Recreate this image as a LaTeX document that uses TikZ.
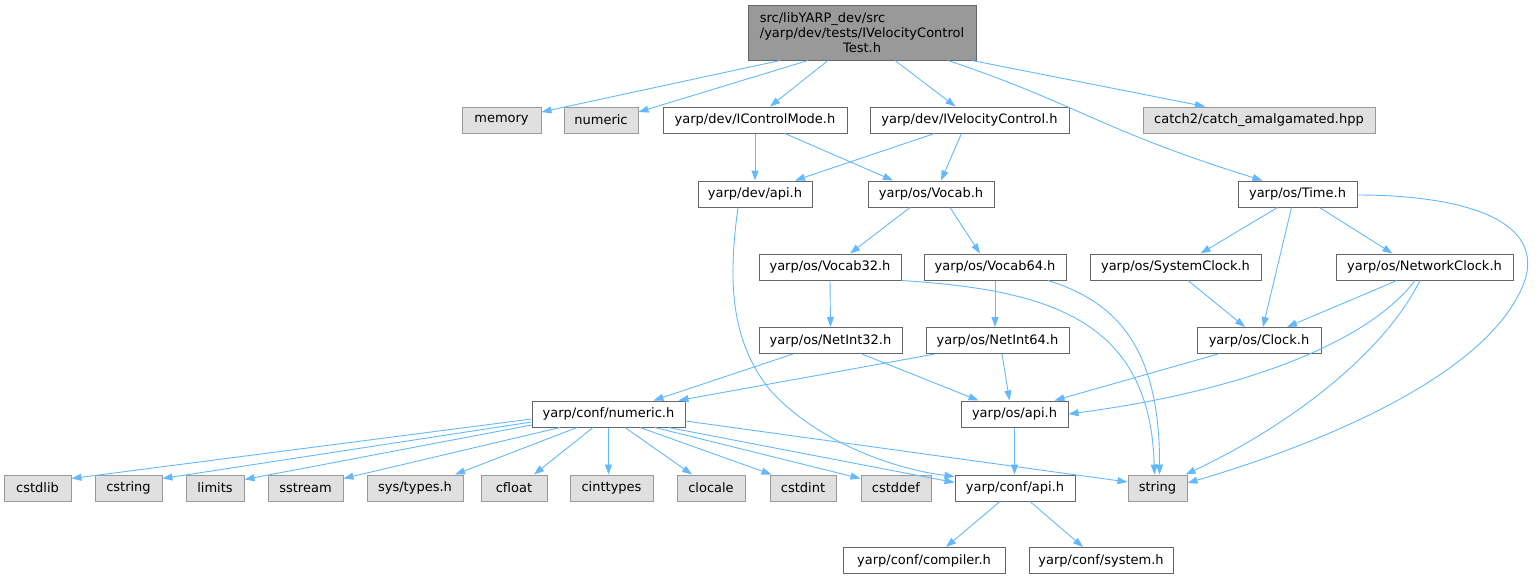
\documentclass[tikz,border=0pt]{standalone}
\usepackage{fontspec}
\setmainfont{DejaVu Sans}
\usetikzlibrary{arrows.meta}
\definecolor{edgeblue}{HTML}{63B8FF}
\definecolor{boxline}{HTML}{666666}
\definecolor{extline}{HTML}{999999}
\definecolor{extfill}{HTML}{E0E0E0}
\definecolor{topfill}{HTML}{999999}
\begin{document}
\begin{tikzpicture}[x=1pt,y=-1pt,
  box/.style={draw=boxline, fill=white, line width=1pt, minimum height=26pt, inner sep=0pt, font=\fontsize{13}{15}\selectfont},
  ext/.style={box, draw=extline, fill=extfill},
  topbox/.style={box, fill=topfill, draw=boxline, align=center},
  dep/.style={draw=edgeblue, line width=0.9pt, -{Triangle[length=10pt,width=7pt]}}]
\useasboundingbox (0,0) rectangle (1538,579);
% nodes
\node[topbox, minimum width=228pt, minimum height=55pt] (top) at (862,32.5)
  {\rlap{src/libYARP\_dev/src}\phantom{/yarp/dev/tests/IVelocityControl}\\/yarp/dev/tests/IVelocityControl\\Test.h};
\node[ext, minimum width=79pt] (memory) at (501.5,120) {memory};
\node[ext, minimum width=74pt] (numeric) at (601,120) {numeric};
\node[box, minimum width=184pt] (icm) at (755,120) {yarp/dev/IControlMode.h};
\node[box, minimum width=199pt] (ivc) at (969.5,120) {yarp/dev/IVelocityControl.h};
\node[ext, minimum width=232pt] (catch) at (1259,120) {catch2/catch\_amalgamated.hpp};
\node[box, minimum width=114pt] (devapi) at (755,194) {yarp/dev/api.h};
\node[box, minimum width=126pt] (vocab) at (931,194) {yarp/os/Vocab.h};
\node[box, minimum width=119pt] (time) at (1297.5,194) {yarp/os/Time.h};
\node[box, minimum width=142pt] (v32) at (830,267) {yarp/os/Vocab32.h};
\node[box, minimum width=142pt] (v64) at (995,267) {yarp/os/Vocab64.h};
\node[box, minimum width=171pt] (sysclock) at (1175.5,267) {yarp/os/SystemClock.h};
\node[box, minimum width=177pt] (netclock) at (1424.5,267) {yarp/os/NetworkClock.h};
\node[box, minimum width=143pt] (ni32) at (830.5,340.5) {yarp/os/NetInt32.h};
\node[box, minimum width=143pt] (ni64) at (997.5,340.5) {yarp/os/NetInt64.h};
\node[box, minimum width=124pt] (clock) at (1259,340.5) {yarp/os/Clock.h};
\node[box, minimum width=153pt] (confnum) at (608.5,414) {yarp/conf/numeric.h};
\node[box, minimum width=107pt] (osapi) at (1014.5,414) {yarp/os/api.h};
\node[ext, minimum width=67pt] (cstdlib) at (37.5,488) {cstdlib};
\node[ext, minimum width=67pt] (cstring) at (128.5,488) {cstring};
\node[ext, minimum width=58pt] (limits) at (215,488) {limits};
\node[ext, minimum width=75pt] (sstream) at (305.5,488) {sstream};
\node[ext, minimum width=96pt] (systypes) at (415,488) {sys/types.h};
\node[ext, minimum width=66pt] (cfloat) at (514,488) {cfloat};
\node[ext, minimum width=83pt] (cinttypes) at (611.5,488) {cinttypes};
\node[ext, minimum width=68pt] (clocale) at (711,488) {clocale};
\node[ext, minimum width=66pt] (cstdint) at (803,488) {cstdint};
\node[ext, minimum width=70pt] (cstddef) at (896,488) {cstddef};
\node[box, minimum width=120pt] (confapi) at (1015,488) {yarp/conf/api.h};
\node[ext, minimum width=59pt] (string) at (1157.5,488) {string};
\node[box, minimum width=162pt] (compiler) at (924,560.5) {yarp/conf/compiler.h};
\node[box, minimum width=144pt] (system) at (1101,560.5) {yarp/conf/system.h};
% edges from top
\draw[dep] ([xshift=-82]top.south) -- ([yshift=8]memory.east);
\draw[dep] ([xshift=-54]top.south) -- ([yshift=8]numeric.east);
\draw[dep] ([xshift=-34]top.south) -- ([xshift=15]icm.north);
\draw[dep] ([xshift=33]top.south) -- ([xshift=-14]ivc.north);
\draw[dep] ([xshift=86]top.south) .. controls (1080,105) and (1100,130) .. ([xshift=-35]time.north);
\draw[dep] ([xshift=110]top.south) -- ([xshift=-54]catch.north);
% row 2
\draw[dep] (icm.south) -- (devapi.north);
\draw[dep] ([xshift=30]icm.south) -- ([xshift=-38]vocab.north);
\draw[dep] ([xshift=-35]ivc.south) -- ([xshift=40]devapi.north);
\draw[dep] ([xshift=-8]ivc.south) -- ([xshift=10]vocab.north);
% row 3
\draw[dep] ([xshift=-17]devapi.south) .. controls (728,280) and (730,340) .. (770,390) .. controls (820,445) and (900,470) .. ([yshift=-2]confapi.north west);
\draw[dep] ([xshift=-21]vocab.south) -- ([xshift=20]v32.north);
\draw[dep] ([xshift=19]vocab.south) -- ([xshift=-15]v64.north);
\draw[dep] ([xshift=-20]time.south) -- ([xshift=25]sysclock.north);
\draw[dep] ([xshift=-6]time.south) -- ([xshift=4]clock.north);
\draw[dep] ([xshift=22]time.south) -- ([xshift=-32]netclock.north);
\draw[dep] ([yshift=-1]time.east) .. controls (1450,195) and (1545,215) .. (1525,280) .. controls (1490,380) and (1300,450) .. ([yshift=5]string.east);
% row 4
\draw[dep] (v32.south) -- (ni32.north);
\draw[dep] (v32.south east) .. controls (1050,290) and (1150,320) .. ([xshift=-3]string.north);
\draw[dep] (v64.south) -- (v64.south |- ni64.north);
\draw[dep] ([xshift=53]v64.south) .. controls (1110,300) and (1160,340) .. ([xshift=2]string.north);
\draw[dep] ([xshift=12.5]sysclock.south) -- ([xshift=-14]clock.north);
\draw[dep] ([xshift=-27.5]netclock.south) -- ([xshift=28]clock.north);
\draw[dep] ([xshift=-9.5]netclock.south) .. controls (1370,340) and (1250,390) .. (osapi.east);
\draw[dep] ([xshift=-4.5]netclock.south) .. controls (1380,360) and (1280,430) .. ([xshift=-2]string.north east);
% row 5
\draw[dep] ([xshift=-37.5]ni32.south) -- ([xshift=45]confnum.north);
\draw[dep] ([xshift=31.5]ni32.south) -- ([xshift=-36]osapi.north);
\draw[dep] ([xshift=-62.5]ni64.south) -- ([xshift=70]confnum.north);
\draw[dep] ([xshift=4.5]ni64.south) -- ([xshift=-5]osapi.north);
\draw[dep] ([xshift=-41]clock.south) -- ([xshift=40]osapi.north);
% row 6
\draw[dep] ([yshift=-5]confnum.west) -- ([yshift=-4]cstdlib.north east);
\draw[dep] ([yshift=-8]confnum.west) -- ([yshift=-4]cstring.north east);
\draw[dep] ([yshift=-11]confnum.west) -- ([yshift=-5]limits.north east);
\draw[dep] ([xshift=-48.5]confnum.south) -- ([yshift=-4]sstream.north east);
\draw[dep] ([xshift=-31.5]confnum.south) -- ([xshift=40]systypes.north);
\draw[dep] ([xshift=-15.5]confnum.south) -- ([xshift=20]cfloat.north);
\draw[dep] (confnum.south) -- (confnum.south |- cinttypes.north);
\draw[dep] ([xshift=16.5]confnum.south) -- ([xshift=-19]clocale.north);
\draw[dep] ([xshift=31.5]confnum.south) -- ([xshift=2]cstdint.north west);
\draw[dep] ([xshift=46.5]confnum.south) -- ([yshift=-4]cstddef.north west);
\draw[dep] ([xshift=60]confnum.south) -- ([yshift=-8]confapi.north west);
\draw[dep] ([yshift=-7]confnum.east) -- ([yshift=6]string.west);
\draw[dep] (osapi.south) -- (osapi.south |- confapi.north);
% row 7
\draw[dep] ([xshift=-15]confapi.south) -- ([xshift=22]compiler.north);
\draw[dep] ([xshift=15]confapi.south) -- ([xshift=-18]system.north);
\end{tikzpicture}
\end{document}
